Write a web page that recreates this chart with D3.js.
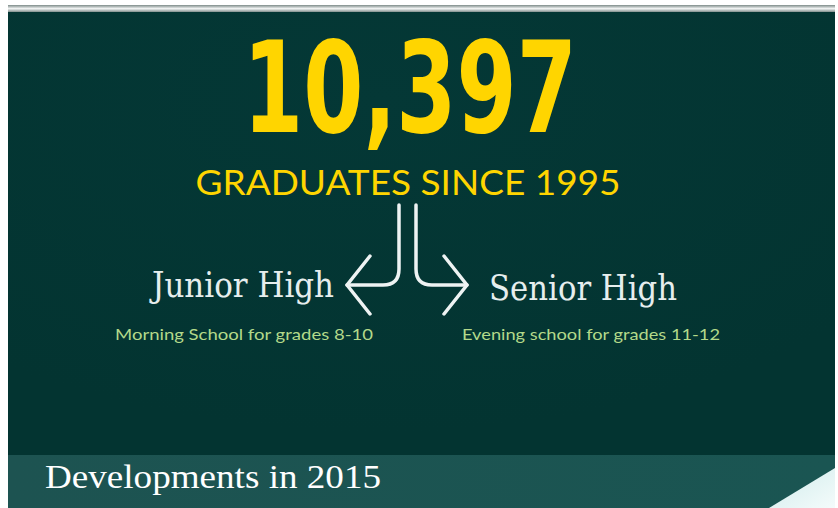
<!DOCTYPE html>
<html>
<head>
<meta charset="utf-8">
<script src="https://cdn.jsdelivr.net/npm/d3@7"></script>
<style>
  html, body { margin: 0; padding: 0; background: #fff; }
  svg { display: block; }
</style>
</head>
<body>
<svg id="chart"></svg>
<script>
// les données de l'infographie
const graduates = [10397]
const headlineLabels = ['GRADUATES SINCE 1995']
const branches = ['Junior High', 'Senior High']
const branchNotes = ['Morning School for grades 8-10', 'Evening school for grades 11-12']
const footerTitles = ['Developments in 2015']

const W = 838
const H = 508

const svg = d3.select('#chart').attr('width', W).attr('height', H)

const defs = svg.append('defs')

// barre argentée en haut
const topGrad = defs.append('linearGradient').attr('id', 'topbar').attr('x1', 0).attr('y1', 0).attr('x2', 0).attr('y2', 1)
topGrad.append('stop').attr('offset', '0%').attr('stop-color', '#7d8a88')
topGrad.append('stop').attr('offset', '45%').attr('stop-color', '#f2f4f4')
topGrad.append('stop').attr('offset', '100%').attr('stop-color', '#5f716e')

// fond principal, un peu plus bleu en haut
const bgGrad = defs.append('radialGradient').attr('id', 'bg').attr('cx', '45%').attr('cy', '20%').attr('r', '75%')
bgGrad.append('stop').attr('offset', '0%').attr('stop-color', '#043836')
bgGrad.append('stop').attr('offset', '100%').attr('stop-color', '#033431')

// bandeau du bas
const footGrad = defs.append('linearGradient').attr('id', 'foot').attr('x1', 0).attr('y1', 0).attr('x2', 1).attr('y2', 0)
footGrad.append('stop').attr('offset', '0%').attr('stop-color', '#1d5351')
footGrad.append('stop').attr('offset', '100%').attr('stop-color', '#1a5552')

const triGrad = defs.append('linearGradient').attr('id', 'tri').attr('x1', 0).attr('y1', 0).attr('x2', 1).attr('y2', 1)
triGrad.append('stop').attr('offset', '0%').attr('stop-color', '#cfeceb')
triGrad.append('stop').attr('offset', '100%').attr('stop-color', '#f4fbfb')

const panelLeft = 8
const panelRight = 835
const panelTop = 12
const footTop = 455

svg.append('rect').attr('x', panelLeft).attr('y', 5).attr('width', panelRight - panelLeft).attr('height', 8).attr('fill', 'url(#topbar)')
svg.append('rect').attr('x', panelLeft).attr('y', panelTop).attr('width', panelRight - panelLeft).attr('height', footTop - panelTop).attr('fill', 'url(#bg)')
svg.append('rect').attr('x', panelLeft).attr('y', footTop).attr('width', panelRight - panelLeft).attr('height', H - footTop).attr('fill', 'url(#foot)')
svg.append('path')
  .attr('d', `M${panelRight - 66},${H} L${panelRight},${H - 40} L${panelRight},${H} Z`)
  .attr('fill', 'url(#tri)')

// --- chiffre principal ---
const fmt = d3.format(',')
svg.selectAll('text.big')
  .data(graduates)
  .join('text')
  .attr('class', 'big')
  .attr('x', 410)
  .attr('y', 132)
  .attr('text-anchor', 'middle')
  .attr('font-family', "'DejaVu Sans', sans-serif")
  .attr('font-weight', 700)
  .attr('font-size', 126)
  .attr('textLength', 334)
  .attr('lengthAdjust', 'spacingAndGlyphs')
  .attr('fill', '#ffd500')
  .text(d => fmt(d))

svg.selectAll('text.sub')
  .data(headlineLabels)
  .join('text')
  .attr('class', 'sub')
  .attr('x', 408)
  .attr('y', 195)
  .attr('text-anchor', 'middle')
  .attr('font-family', 'Lato, sans-serif')
  .attr('font-size', 35)
  .attr('textLength', 425)
  .attr('lengthAdjust', 'spacingAndGlyphs')
  .attr('fill', '#ffd500')
  .text(d => d)

// --- les deux branches ---
const x = d3.scalePoint().domain(branches).range([347, 467])
const stemX = d3.scalePoint().domain(branches).range([399, 416])
const arrowY = 285
const r = 16

const arrows = svg.append('g')
  .attr('fill', 'none')
  .attr('stroke', '#eef3f3')
  .attr('stroke-width', 3.5)
  .attr('stroke-linecap', 'round')
  .attr('stroke-linejoin', 'round')

branches.forEach((b, i) => {
  const dir = i === 0 ? -1 : 1
  const sx = stemX(b)
  const tip = x(b)
  const p = d3.path()
  p.moveTo(sx, 205)
  p.lineTo(sx, arrowY - r)
  p.quadraticCurveTo(sx, arrowY, sx + dir * r, arrowY)
  p.lineTo(tip, arrowY)
  arrows.append('path').attr('d', p.toString())
  const h = d3.path()
  h.moveTo(tip - dir * 23, arrowY - 29)
  h.lineTo(tip, arrowY)
  h.lineTo(tip - dir * 23, arrowY + 29)
  arrows.append('path').attr('d', h.toString())
})

const labelX = d3.scalePoint().domain(branches).range([334, 489])

svg.selectAll('text.branch')
  .data(branches)
  .join('text')
  .attr('class', 'branch')
  .attr('x', d => labelX(d))
  .attr('y', (d, i) => i === 0 ? 297 : 300)
  .attr('text-anchor', (d, i) => i === 0 ? 'end' : 'start')
  .attr('font-family', "'DejaVu Serif', serif")
  .attr('font-size', 36)
  .attr('textLength', (d, i) => i === 0 ? 182 : 188)
  .attr('lengthAdjust', 'spacingAndGlyphs')
  .attr('fill', '#e6eeee')
  .text(d => d)

const noteX = d3.scalePoint().domain(branches).range([115, 462])

svg.selectAll('text.note')
  .data(branchNotes)
  .join('text')
  .attr('class', 'note')
  .attr('x', (d, i) => noteX(branches[i]))
  .attr('y', 340)
  .attr('font-family', 'Lato, sans-serif')
  .attr('font-size', 16)
  .attr('textLength', 258)
  .attr('lengthAdjust', 'spacingAndGlyphs')
  .attr('fill', '#b3d98a')
  .text(d => d)

// --- bandeau du bas ---
svg.selectAll('text.foot')
  .data(footerTitles)
  .join('text')
  .attr('class', 'foot')
  .attr('x', 45)
  .attr('y', 488)
  .attr('font-family', "'Liberation Serif', serif")
  .attr('font-size', 34)
  .attr('textLength', 336)
  .attr('lengthAdjust', 'spacingAndGlyphs')
  .attr('fill', '#ffffff')
  .text(d => d)
</script>
</body>
</html>
